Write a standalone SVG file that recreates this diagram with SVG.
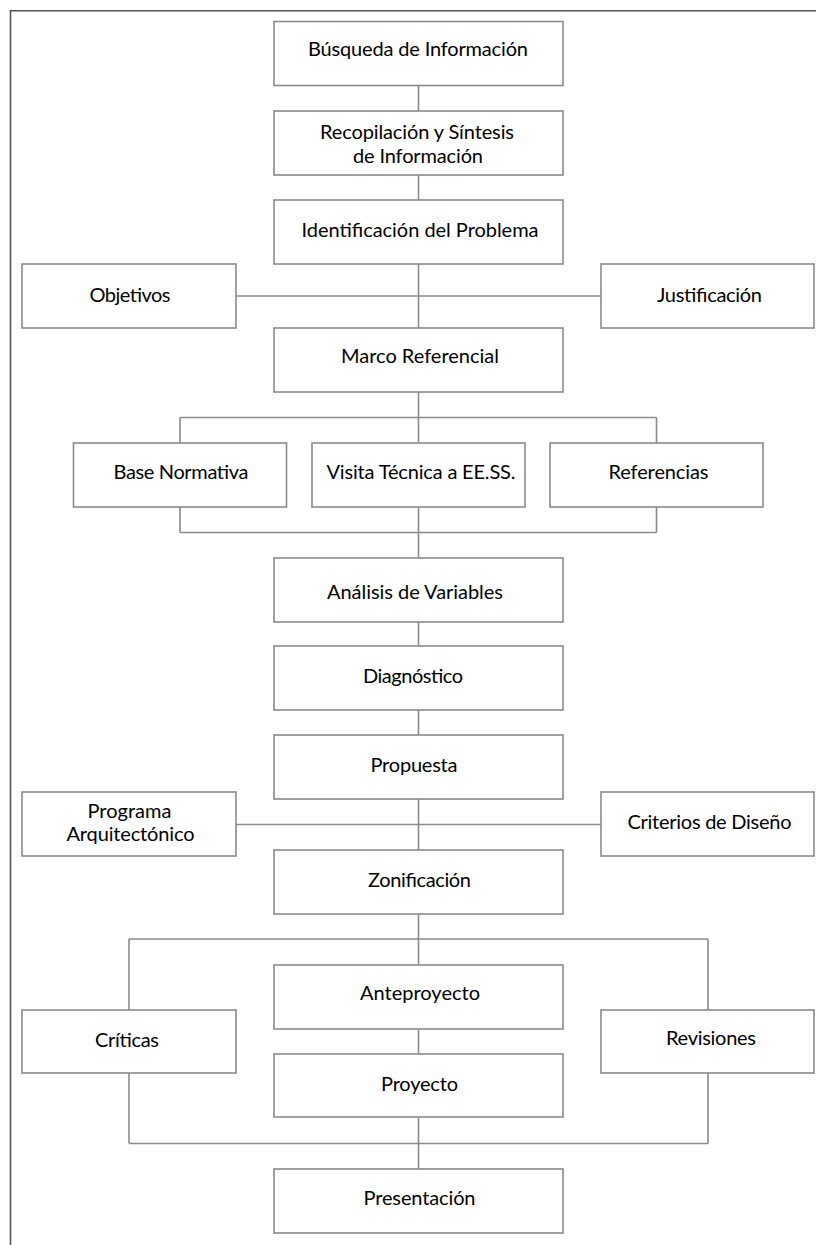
<svg xmlns="http://www.w3.org/2000/svg" width="816" height="1245" viewBox="0 0 816 1245">
<style>
.box{fill:#fff;stroke:#8a8a8a;stroke-width:1.6}
.lbl{font-family:"Lato","Liberation Sans",sans-serif;font-size:20px;fill:#000;text-anchor:middle}
.con{fill:none;stroke:#8a8a8a;stroke-width:1.6}
.frame{fill:none;stroke:#555;stroke-width:1.6}
</style>
<rect width="816" height="1245" fill="#fff"/>
<path class="frame" d="M10.5,1245 V10.7 H816"/>
<g id="connectors">
<path class="con" d="M418.5,85.5 V111 M418.5,175 V200 M418.5,264 V328 M236,296 H601"/>
<path class="con" d="M418.5,392 V443 M180,417.5 H656.5 M180,417.5 V443 M656.5,417.5 V443"/>
<path class="con" d="M418.5,507 V558 M180,507 V532.5 M656.5,507 V532.5 M180,532.5 H656.5"/>
<path class="con" d="M418.5,622 V646 M418.5,710 V735 M418.5,799 V850 M236,824.5 H601"/>
<path class="con" d="M418.5,914 V965 M129,939 H708 M129,939 V1010 M708,939 V1010"/>
<path class="con" d="M418.5,1029 V1054 M418.5,1117 V1169 M129,1073 V1143.5 M708,1073 V1143.5 M129,1143.5 H708"/>
</g>
<g id="n1"><rect class="box" x="274" y="21.5" width="289" height="64"/><text class="lbl" x="418" y="56" textLength="220">Búsqueda de Información</text></g>
<g id="n2"><rect class="box" x="274" y="111" width="289" height="64"/><text class="lbl" x="417" y="139" textLength="194">Recopilación y Síntesis</text><text class="lbl" x="418" y="162.5" textLength="130">de Información</text></g>
<g id="n3"><rect class="box" x="274" y="200" width="289" height="64"/><text class="lbl" x="420" y="237" textLength="237">Identificación del Problema</text></g>
<g id="n4"><rect class="box" x="22" y="264" width="214" height="64"/><text class="lbl" x="130" y="301.5" textLength="81">Objetivos</text></g>
<g id="n5"><rect class="box" x="601" y="264" width="213" height="64"/><text class="lbl" x="709.5" y="301.5" textLength="105">Justificación</text></g>
<g id="n6"><rect class="box" x="274" y="328" width="289" height="64"/><text class="lbl" x="420" y="363" textLength="158">Marco Referencial</text></g>
<g id="n7"><rect class="box" x="73.5" y="443" width="213" height="64"/><text class="lbl" x="181" y="479" textLength="135">Base Normativa</text></g>
<g id="n8"><rect class="box" x="312" y="443" width="213" height="64"/><text class="lbl" x="421" y="479" textLength="189">Visita Técnica a EE.SS.</text></g>
<g id="n9"><rect class="box" x="550" y="443" width="213" height="64"/><text class="lbl" x="658.5" y="479" textLength="100">Referencias</text></g>
<g id="n10"><rect class="box" x="274" y="558" width="289" height="64"/><text class="lbl" x="415" y="599" textLength="176">Análisis de Variables</text></g>
<g id="n11"><rect class="box" x="274" y="646" width="289" height="64"/><text class="lbl" x="413" y="683" textLength="100">Diagnóstico</text></g>
<g id="n12"><rect class="box" x="274" y="735" width="289" height="64"/><text class="lbl" x="414" y="772" textLength="87">Propuesta</text></g>
<g id="n13"><rect class="box" x="22" y="792" width="214" height="64"/><text class="lbl" x="129.5" y="818" textLength="84">Programa</text><text class="lbl" x="130.5" y="841" textLength="128">Arquitectónico</text></g>
<g id="n14"><rect class="box" x="601" y="792" width="213" height="64"/><text class="lbl" x="709.5" y="829" textLength="164">Criterios de Diseño</text></g>
<g id="n15"><rect class="box" x="274" y="850" width="289" height="64"/><text class="lbl" x="419.5" y="887" textLength="103">Zonificación</text></g>
<g id="n16"><rect class="box" x="274" y="965" width="289" height="64"/><text class="lbl" x="420" y="1000" textLength="120">Anteproyecto</text></g>
<g id="n17"><rect class="box" x="22" y="1010" width="214" height="63"/><text class="lbl" x="127" y="1047" textLength="64">Críticas</text></g>
<g id="n18"><rect class="box" x="601" y="1010" width="213" height="63"/><text class="lbl" x="711" y="1045" textLength="90">Revisiones</text></g>
<g id="n19"><rect class="box" x="274" y="1054" width="289" height="63"/><text class="lbl" x="419.5" y="1091" textLength="77">Proyecto</text></g>
<g id="n20"><rect class="box" x="274" y="1169" width="289" height="64"/><text class="lbl" x="419.5" y="1205" textLength="112">Presentación</text></g>
</svg>
